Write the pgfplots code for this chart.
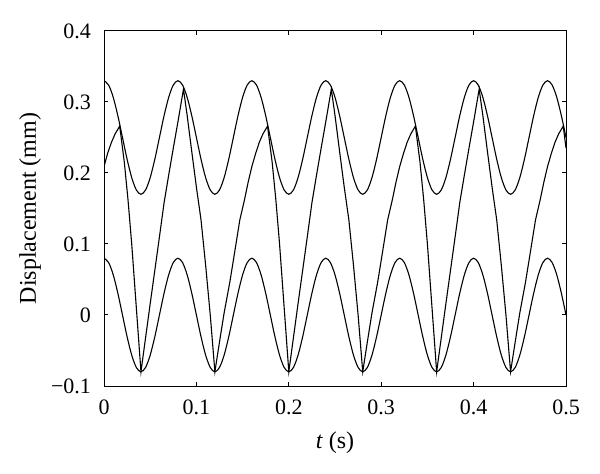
\documentclass[border=0pt]{standalone}
\usepackage{fontspec}
\setmainfont{Liberation Serif}
\usepackage{pgfplots}
\pgfplotsset{compat=1.18}
\usepackage{pgfplotstable}

\pgfplotstableread{
t lo up
0.000 0.08 0.33
0.005 0.07391 0.32391
0.010 0.05657 0.30657
0.015 0.03061 0.28061
0.020 0 0.25
0.025 -0.03061 0.21939
0.030 -0.05657 0.19343
0.035 -0.07391 0.17609
0.040 -0.08 0.17
0.045 -0.07391 0.17609
0.050 -0.05657 0.19343
0.055 -0.03061 0.21939
0.060 0 0.25
0.065 0.03061 0.28061
0.070 0.05657 0.30657
0.075 0.07391 0.32391
0.080 0.08 0.33
0.085 0.07391 0.32391
0.090 0.05657 0.30657
0.095 0.03061 0.28061
0.100 0 0.25
0.105 -0.03061 0.21939
0.110 -0.05657 0.19343
0.115 -0.07391 0.17609
0.120 -0.08 0.17
0.125 -0.07391 0.17609
0.130 -0.05657 0.19343
0.135 -0.03061 0.21939
0.140 0 0.25
0.145 0.03061 0.28061
0.150 0.05657 0.30657
0.155 0.07391 0.32391
0.160 0.08 0.33
0.165 0.07391 0.32391
0.170 0.05657 0.30657
0.175 0.03061 0.28061
0.180 0 0.25
0.185 -0.03061 0.21939
0.190 -0.05657 0.19343
0.195 -0.07391 0.17609
0.200 -0.08 0.17
0.205 -0.07391 0.17609
0.210 -0.05657 0.19343
0.215 -0.03061 0.21939
0.220 0 0.25
0.225 0.03061 0.28061
0.230 0.05657 0.30657
0.235 0.07391 0.32391
0.240 0.08 0.33
0.245 0.07391 0.32391
0.250 0.05657 0.30657
0.255 0.03061 0.28061
0.260 0 0.25
0.265 -0.03061 0.21939
0.270 -0.05657 0.19343
0.275 -0.07391 0.17609
0.280 -0.08 0.17
0.285 -0.07391 0.17609
0.290 -0.05657 0.19343
0.295 -0.03061 0.21939
0.300 0 0.25
0.305 0.03061 0.28061
0.310 0.05657 0.30657
0.315 0.07391 0.32391
0.320 0.08 0.33
0.325 0.07391 0.32391
0.330 0.05657 0.30657
0.335 0.03061 0.28061
0.340 0 0.25
0.345 -0.03061 0.21939
0.350 -0.05657 0.19343
0.355 -0.07391 0.17609
0.360 -0.08 0.17
0.365 -0.07391 0.17609
0.370 -0.05657 0.19343
0.375 -0.03061 0.21939
0.380 0 0.25
0.385 0.03061 0.28061
0.390 0.05657 0.30657
0.395 0.07391 0.32391
0.400 0.08 0.33
0.405 0.07391 0.32391
0.410 0.05657 0.30657
0.415 0.03061 0.28061
0.420 0 0.25
0.425 -0.03061 0.21939
0.430 -0.05657 0.19343
0.435 -0.07391 0.17609
0.440 -0.08 0.17
0.445 -0.07391 0.17609
0.450 -0.05657 0.19343
0.455 -0.03061 0.21939
0.460 0 0.25
0.465 0.03061 0.28061
0.470 0.05657 0.30657
0.475 0.07391 0.32391
0.480 0.08 0.33
0.485 0.07391 0.32391
0.490 0.05657 0.30657
0.495 0.03061 0.28061
0.500 0 0.25
}\waves

\pgfplotstableread{
t y
0.000 0.209
0.004 0.228
0.008 0.243
0.012 0.255
0.017 0.266
0.022 0.215
0.026 0.162
0.030 0.10
0.035 0.01
0.040 -0.08
0.045 -0.032
0.050 0.016
0.055 0.063
0.060 0.110
0.065 0.158
0.070 0.197
0.075 0.235
0.080 0.272
0.086 0.318
0.090 0.281
0.095 0.230
0.100 0.180
0.105 0.134
0.110 0.07
0.115 0.0
0.120 -0.080
0.125 -0.038
0.130 0.003
0.136 0.045
0.140 0.077
0.147 0.134
0.152 0.162
0.156 0.187
0.160 0.209
0.164 0.227
0.168 0.243
0.172 0.255
0.177 0.266
0.182 0.215
0.186 0.162
0.190 0.10
0.195 0.01
0.200 -0.08
0.205 -0.032
0.210 0.016
0.215 0.063
0.220 0.110
0.225 0.158
0.230 0.197
0.235 0.235
0.240 0.272
0.246 0.318
0.250 0.281
0.255 0.230
0.260 0.180
0.265 0.134
0.270 0.07
0.275 0.0
0.280 -0.080
0.285 -0.038
0.290 0.003
0.296 0.045
0.300 0.077
0.307 0.134
0.312 0.162
0.316 0.187
0.320 0.209
0.324 0.227
0.328 0.243
0.332 0.255
0.337 0.266
0.342 0.215
0.346 0.162
0.350 0.10
0.355 0.01
0.360 -0.08
0.365 -0.032
0.370 0.016
0.375 0.063
0.380 0.110
0.385 0.158
0.390 0.197
0.395 0.235
0.400 0.272
0.406 0.318
0.410 0.281
0.415 0.230
0.420 0.180
0.425 0.134
0.430 0.07
0.435 0.0
0.440 -0.080
0.445 -0.038
0.450 0.003
0.456 0.045
0.460 0.077
0.467 0.134
0.472 0.162
0.476 0.187
0.480 0.209
0.484 0.227
0.488 0.243
0.492 0.255
0.497 0.266
0.500 0.235
}\third

\begin{document}
\begin{tikzpicture}
\begin{axis}[
  scale only axis,
  width=231pt, height=177.5pt,
  xmin=0, xmax=0.5, ymin=-0.1, ymax=0.4,
  xtick={0,0.1,0.2,0.3,0.4,0.5},
  xticklabels={0,0.1,0.2,0.3,0.4,0.5},
  ytick={-0.1,0,0.1,0.2,0.3,0.4},
  yticklabels={−0.1,0,0.1,0.2,0.3,0.4},
  tick align=inside,
  major tick length=2pt,
  tick style={black, line width=0.5pt},
  axis line style={black, line width=0.5pt},
  tick label style={font=\fontsize{11}{13}\selectfont},
  xticklabel style={yshift=-3.5pt},
  yticklabel style={xshift=-3pt},
  label style={font=\fontsize{12}{14}\selectfont},
  xlabel={\textit{t} (s)},
  ylabel={Displacement (mm)},
  xlabel style={at={(axis description cs:0.5,0)}, anchor=center, yshift=-28.5pt},
  ylabel style={at={(axis description cs:0,0.5)}, anchor=center, xshift=0pt, yshift=37pt},
  clip=true,
]
\addplot[black, line width=0.55pt, smooth] table[x=t, y=up] {\waves};
\addplot[black, line width=0.55pt, smooth] table[x=t, y=lo] {\waves};
\addplot[black, line width=0.55pt] table[x=t, y=y] {\third};
\end{axis}
\path (current axis.south west) +(-52pt,-43.5pt);
\path (current axis.north east) +(17pt,15.5pt);
\end{tikzpicture}
\end{document}
